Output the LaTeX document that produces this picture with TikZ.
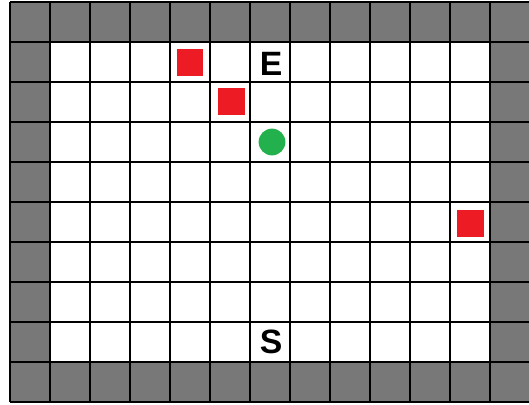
\documentclass[tikz,border=0pt]{standalone}
\usepackage{fontspec}
\setsansfont{Liberation Sans}
\usepackage{tikz}
\usetikzlibrary{positioning}
\definecolor{wall}{HTML}{787878}
\definecolor{obstacle}{HTML}{ED1C24}
\definecolor{agent}{HTML}{22B14C}
\tikzset{
  wallarea/.style={fill=wall},
  freearea/.style={fill=white},
  gridline/.style={draw=black,line width=1.3pt},
  obstaclebox/.style={
    rectangle,fill=obstacle,minimum size=6.7mm,inner sep=0pt
  },
  agentdot/.style={
    circle,fill=agent,minimum size=6.7mm,inner sep=0pt
  },
  marker/.style={
    inner sep=0pt,font=\sffamily\bfseries\fontsize{24}{26}\selectfont
  }
}
\begin{document}
\begin{tikzpicture}[x=1cm,y=-1cm]
\useasboundingbox (-0.25,-0.05) rectangle (12.975,10.05);
\fill[wallarea] (0,0) rectangle (13,10);
\fill[freearea] (1,1) rectangle (12,9);
\draw[gridline] (0,0) grid (13,10);
\node[marker] (goal) at (6.53,1.55) {E};
\node[marker] (start) at (6.53,8.5) {S};
\node[obstaclebox] (block1) at (4.5,1.51) {};
\node[obstaclebox] (block2) at (5.54,2.48) {};
\node[obstaclebox] (block3) at (11.51,5.53) {};
\node[agentdot] (robot) at (6.55,3.5) {};
\end{tikzpicture}
\end{document}
